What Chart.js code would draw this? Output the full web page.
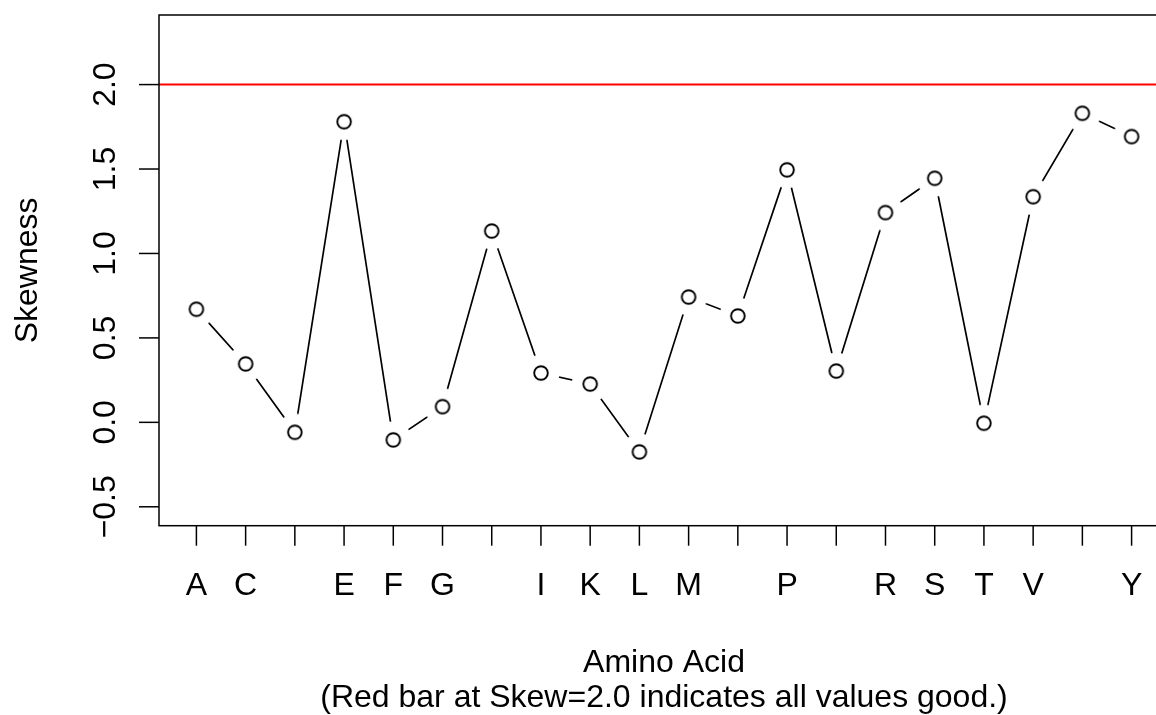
<!DOCTYPE html>
<html>
<head>
<meta charset="utf-8">
<script src="https://cdn.jsdelivr.net/npm/chart.js@4"></script>
<style>
    html, body { margin: 0; padding: 0; background: #fff; overflow: hidden; }
    #wrap { width: 1156px; height: 715px; overflow: hidden; }
</style>
</head>
<body>
<div id="wrap"><canvas id="skewChart" width="1180" height="715"></canvas></div>
<script>
// Amino acids (all 20 get a tick, R drops labels that would overlap)
const aminoAcids = ['A', 'C', 'D', 'E', 'F', 'G', 'H', 'I', 'K', 'L', 'M', 'N', 'P', 'Q', 'R', 'S', 'T', 'V', 'W', 'Y'];
const shownLabels = ['A', 'C', 'E', 'F', 'G', 'I', 'K', 'L', 'M', 'P', 'R', 'S', 'T', 'V', 'Y'];
const skewValues = [0.670, 0.346, -0.059, 1.780, -0.104, 0.093, 1.133, 0.292, 0.227, -0.175,
                    0.742, 0.630, 1.495, 0.304, 1.242, 1.445, -0.005, 1.336, 1.830, 1.692];
const yTicks = [-0.5, 0.0, 0.5, 1.0, 1.5, 2.0];
const yTickLabels = ['\u22120.5', '0.0', '0.5', '1.0', '1.5', '2.0'];
const goodLine = 2.0;

const FONT = '32px "Liberation Sans", Arial, Helvetica, sans-serif';

// open circle with a white halo so the connecting line stops short (R type = "b")
function makeMarker() {
    const c = document.createElement('canvas');
    c.width = 38;
    c.height = 38;
    const g = c.getContext('2d');
    g.fillStyle = '#fff';
    g.beginPath();
    g.arc(19, 19, 18.5, 0, Math.PI * 2);
    g.fill();
    g.strokeStyle = '#000';
    g.lineWidth = 1.9;
    g.beginPath();
    g.arc(19, 19, 6.8, 0, Math.PI * 2);
    g.stroke();
    return c;
}

// frame, red reference line, ticks and all the axis text
const rAxes = {
    id: 'rAxes',
    afterDatasetsDraw(chart) {
        const { ctx, chartArea, scales } = chart;
        const xs = scales.x, ys = scales.y;
        ctx.save();

        // red bar at skew = 2.0
        const yr = ys.getPixelForValue(goodLine);
        ctx.strokeStyle = '#ff0000';
        ctx.lineWidth = 2;
        ctx.beginPath();
        ctx.moveTo(chartArea.left, yr);
        ctx.lineTo(chartArea.right, yr);
        ctx.stroke();

        // box
        ctx.strokeStyle = '#000';
        ctx.lineWidth = 1.5;
        ctx.strokeRect(chartArea.left, chartArea.top, chartArea.right - chartArea.left, chartArea.bottom - chartArea.top);

        // x ticks + labels
        ctx.font = FONT;
        ctx.fillStyle = '#000';
        ctx.textAlign = 'center';
        ctx.textBaseline = 'alphabetic';
        aminoAcids.forEach((aa, i) => {
            const px = xs.getPixelForValue(i);
            ctx.beginPath();
            ctx.moveTo(px, chartArea.bottom);
            ctx.lineTo(px, chartArea.bottom + 20);
            ctx.stroke();
            if (shownLabels.includes(aa)) {
                ctx.fillText(aa, px, 595);
            }
        });

        // y ticks + rotated labels
        yTicks.forEach((v, i) => {
            const py = ys.getPixelForValue(v);
            ctx.beginPath();
            ctx.moveTo(chartArea.left - 20, py);
            ctx.lineTo(chartArea.left, py);
            ctx.stroke();
            ctx.save();
            ctx.translate(115, py);
            ctx.rotate(-Math.PI / 2);
            ctx.fillText(yTickLabels[i], 0, 0);
            ctx.restore();
        });

        // axis titles
        const cx = (chartArea.left + chartArea.right) / 2;
        ctx.fillText('Amino Acid', cx, 672);
        ctx.fillText('(Red bar at Skew=2.0 indicates all values good.)', cx, 706.5);

        ctx.save();
        ctx.translate(37, (chartArea.top + chartArea.bottom) / 2);
        ctx.rotate(-Math.PI / 2);
        ctx.fillText('Skewness', 0, 0);
        ctx.restore();

        ctx.restore();
    }
};

document.addEventListener('DOMContentLoaded', () => {
    const ctx = document.getElementById('skewChart').getContext('2d');
    window.skewChart = new Chart(ctx, {
        type: 'line',
        data: {
            datasets: [{
                label: 'Skewness',
                data: skewValues.map((v, i) => ({ x: i, y: v })),
                borderColor: '#000',
                borderWidth: 1.7,
                tension: 0,
                fill: false,
                pointStyle: makeMarker(),
                clip: false
            }]
        },
        options: {
            responsive: false,
            animation: false,
            layout: {
                padding: { left: 159, top: 15, right: 11, bottom: 189.3 }
            },
            plugins: {
                legend: { display: false },
                tooltip: { enabled: false }
            },
            scales: {
                x: {
                    type: 'linear',
                    display: false,
                    min: -0.76,
                    max: 19.76
                },
                y: {
                    type: 'linear',
                    display: false,
                    min: -0.612,
                    max: 2.412
                }
            }
        },
        plugins: [rAxes]
    });
});
</script>
</body>
</html>
